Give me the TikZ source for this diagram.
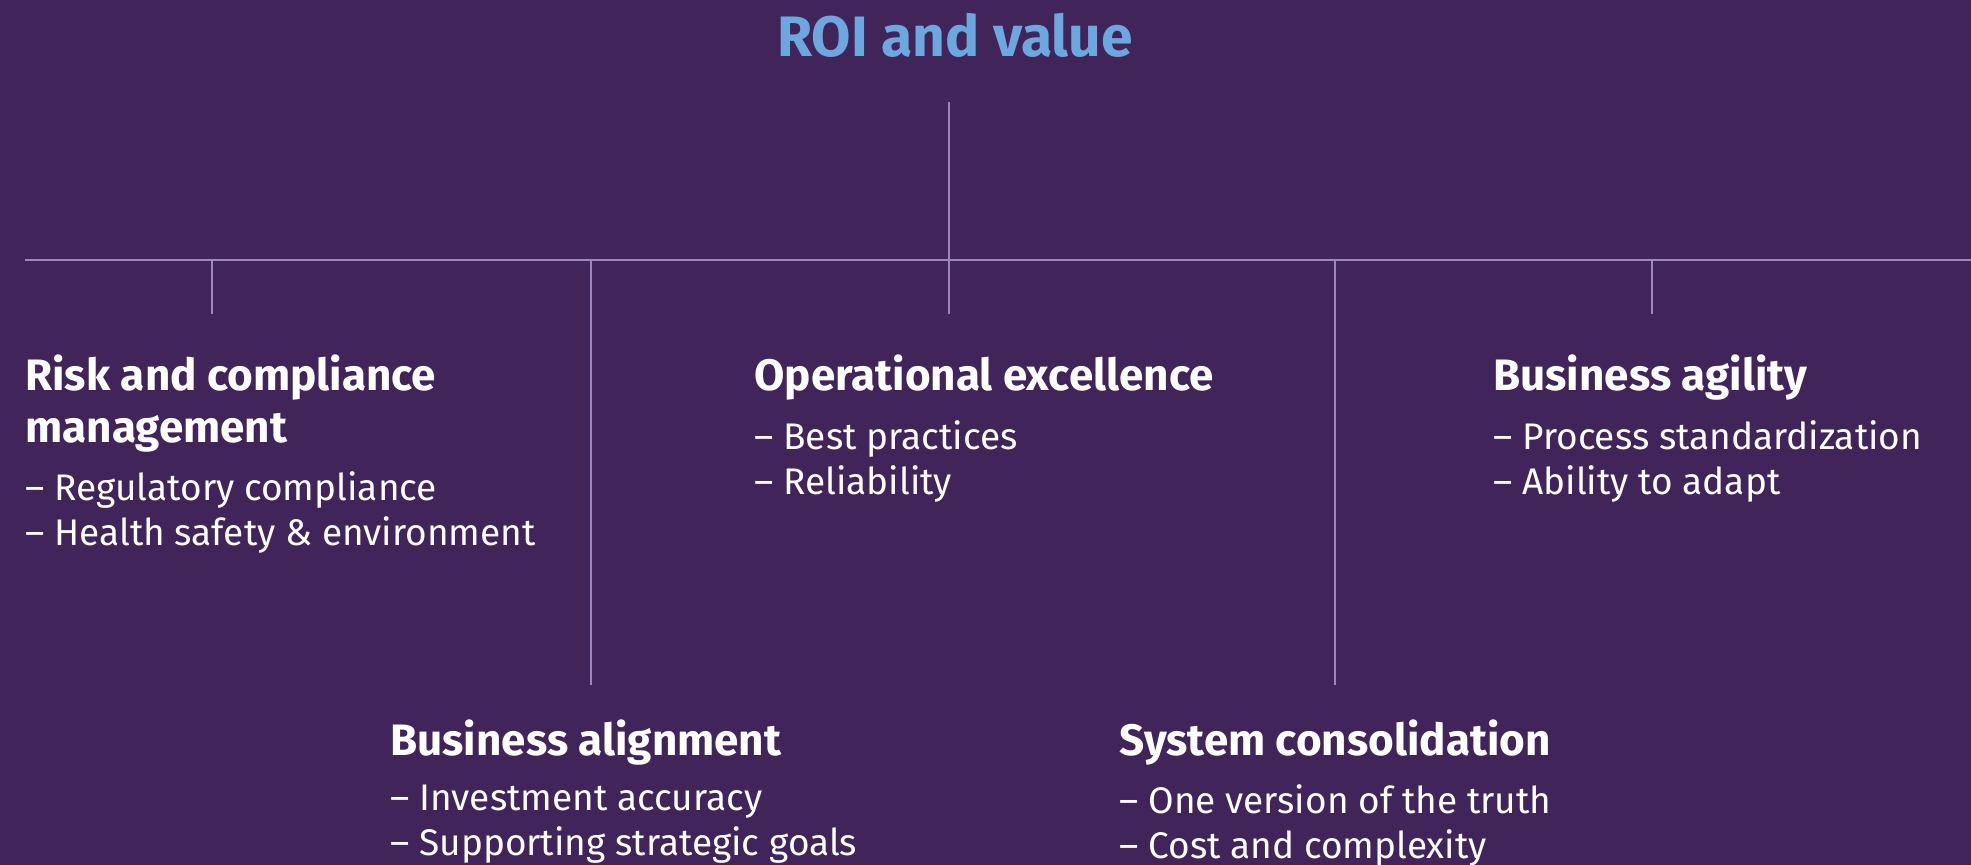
\documentclass[tikz,border=0pt]{standalone}
\usepackage{fontspec}
\setmainfont{Fira Sans}
\usetikzlibrary{positioning}
\definecolor{bgpurple}{HTML}{41245A}
\definecolor{roiblue}{HTML}{6CA8DF}
\definecolor{linepurple}{HTML}{9D86BF}
\tikzstyle{title} = [anchor=base, inner sep=0pt, text=roiblue, font=\fontsize{28.5}{34}\selectfont\bfseries]
\tikzstyle{heading} = [anchor=north west, inner sep=0pt, align=left, text=white, font=\fontsize{22}{26}\selectfont\bfseries]
\tikzstyle{items} = [inner sep=0pt, align=left, text=white, font=\fontsize{18.5}{22.5}\selectfont]
\tikzstyle{rule} = [draw=linepurple, line width=0.7pt]

\begin{document}
\begin{tikzpicture}[x=0.5pt, y=-0.5pt]

\fill[bgpurple] (0,0) rectangle (1971,865);
\useasboundingbox (0,0) rectangle (1971,865);

\node (0) [title] at (955,57) {ROI and value};

\node (1) [heading] at (25,354) {Risk and compliance\\management};
\node (2) [heading] at (754,354) {Operational excellence};
\node (3) [heading] at (1493,354) {Business agility};
\node (4) [heading] at (390,719) {Business alignment};
\node (5) [heading] at (1119,719) {System consolidation};

\node (1a) [items, below=9.5pt of 1.south west, anchor=north west] {-- Regulatory compliance\\-- Health safety \& environment};
\node (2a) [items, below=10pt of 2.south west, anchor=north west] {-- Best practices\\-- Reliability};
\node (3a) [items, below=10pt of 3.south west, anchor=north west] {-- Process standardization\\-- Ability to adapt};
\node (4a) [items, below=9.5pt of 4.south west, anchor=north west] {-- Investment accuracy\\-- Supporting strategic goals};
\node (5a) [items, below=9.5pt of 5.south west, anchor=north west] {-- One version of the truth\\-- Cost and complexity};

% bar and drops
\coordinate (top) at (949,102);
\coordinate (hub) at (949,314);
\coordinate (barl) at (25,260);
\coordinate (barr) at (1971,260);
\coordinate (t1) at (212,260);
\coordinate (b1) at (212,314);
\coordinate (t3) at (1652,260);
\coordinate (b3) at (1652,314);
\coordinate (t4) at (591,260);
\coordinate (b4) at (591,685);
\coordinate (t5) at (1335,260);
\coordinate (b5) at (1335,685);

\draw [rule] (top) -- (hub);
\draw [rule] (barl) -- (barr);
\draw [rule] (t1) -- (b1);
\draw [rule] (t3) -- (b3);
\draw [rule] (t4) -- (b4);
\draw [rule] (t5) -- (b5);

\end{tikzpicture}
\end{document}
